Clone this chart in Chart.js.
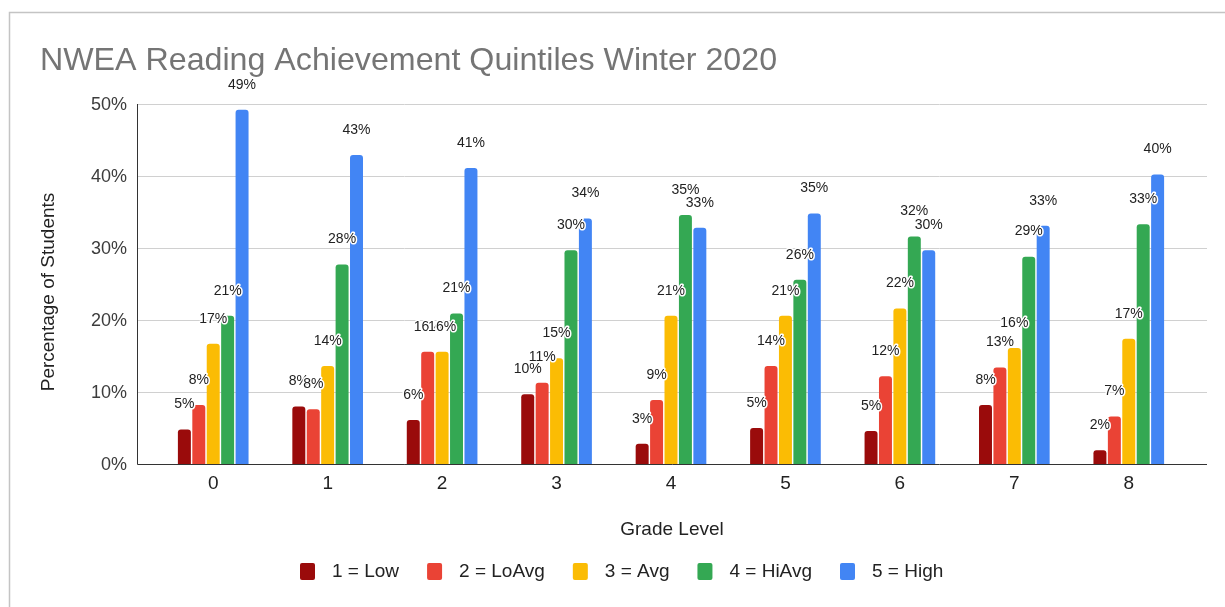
<!DOCTYPE html>
<html>
<head>
<meta charset="utf-8">
<title>NWEA Reading Achievement Quintiles Winter 2020</title>
<script src="https://cdn.jsdelivr.net/npm/chart.js@4/dist/chart.umd.min.js"></script>
<style>
  html, body { margin:0; padding:0; background:#fff; }
  #wrap { width:1225px; height:607px; position:relative; }
</style>
</head>
<body>
<div id="wrap"><canvas id="quintileChart" width="1225" height="607"></canvas></div>
<script>
/* ============================================================
   DATA (percent of students per quintile, by grade)
   ============================================================ */
const grades      = ['0','1','2','3','4','5','6','7','8'];
const seriesNames = ['1 = Low','2 = LoAvg','3 = Avg','4 = HiAvg','5 = High'];
const seriesColors = ['#9a0b0b','#ea4335','#fbbc04','#34a853','#4285f4'];
const low   = [4.8, 8.0, 6.1, 9.7, 2.8, 5.0, 4.6, 8.2, 1.9];
const loAvg = [8.2, 7.6, 15.6, 11.3, 8.9, 13.6, 12.2, 13.4, 6.6];
const avg   = [16.7, 13.6, 15.6, 14.7, 20.6, 20.6, 21.6, 16.1, 17.4];
const hiAvg = [20.6, 27.7, 20.9, 29.7, 34.6, 25.6, 31.6, 28.8, 33.3];
const high  = [49.2, 42.9, 41.1, 34.1, 32.8, 34.8, 29.7, 33.1, 40.2];
const yTicks = [0, 10, 20, 30, 40, 50];

const FONT = '"Liberation Sans", Arial, sans-serif';
const AXIS_LEFT = 137, AXIS_RIGHT = 1207;

/** Frame, title, gridlines, axis lines, tick labels, axis titles, legend. */
const decorPlugin = {
  id: 'decor',
  beforeDraw(chart) {
    const ctx = chart.ctx;
    ctx.save();
    ctx.strokeStyle = '#c4c4c4';
    ctx.lineWidth = 1.5;
    ctx.beginPath();
    ctx.moveTo(9.5, 640); ctx.lineTo(9.5, 12.5); ctx.lineTo(1240, 12.5);
    ctx.stroke();

    ctx.fillStyle = '#757575';
    ctx.font = `32.2px ${FONT}`;
    ctx.textBaseline = 'alphabetic';
    ctx.fillText('NWEA Reading Achievement Quintiles Winter 2020', 40, 70);
    ctx.restore();
  },
  beforeDatasetsDraw(chart) {
    const ctx = chart.ctx, y = chart.scales.y, x = chart.scales.x;
    ctx.save();
    ctx.strokeStyle = '#d0d0d0';
    ctx.lineWidth = 1;
    yTicks.forEach(t => {
      if (t === 0) return;
      const py = Math.round(y.getPixelForValue(t)) + 0.5;
      ctx.beginPath(); ctx.moveTo(AXIS_LEFT, py); ctx.lineTo(AXIS_RIGHT, py); ctx.stroke();
    });

    // y tick labels
    ctx.fillStyle = '#3c3c3c';
    ctx.font = `18px ${FONT}`;
    ctx.textAlign = 'right';
    ctx.textBaseline = 'middle';
    yTicks.forEach(t => ctx.fillText(t + '%', 127, y.getPixelForValue(t) + 1));

    // x tick labels
    ctx.fillStyle = '#222';
    ctx.textAlign = 'center';
    ctx.font = `19px ${FONT}`;
    grades.forEach((g, i) => ctx.fillText(g, x.getPixelForValue(i), 484));

    // axis titles
    ctx.fillText('Grade Level', (AXIS_LEFT + AXIS_RIGHT) / 2, 530);
    ctx.save();
    ctx.translate(49, 292);
    ctx.rotate(-Math.PI / 2);
    ctx.fillText('Percentage of Students', 0, 0);
    ctx.restore();

    // legend
    ctx.textAlign = 'left';
    let lx = 300;
    seriesNames.forEach((name, i) => {
      ctx.fillStyle = seriesColors[i];
      ctx.beginPath();
      ctx.roundRect(lx, 563, 15, 17, 2);
      ctx.fill();
      ctx.fillStyle = '#222';
      ctx.fillText(name, lx + 32, 572);
      lx += 32 + ctx.measureText(name).width + 28;
    });
    ctx.restore();
  },
  afterDatasetsDraw(chart) {
    const ctx = chart.ctx, y = chart.scales.y;
    ctx.save();
    ctx.strokeStyle = '#333';
    ctx.lineWidth = 1;
    const base = Math.round(y.getPixelForValue(0)) + 0.5;
    ctx.beginPath();
    ctx.moveTo(AXIS_LEFT + 0.5, Math.round(y.getPixelForValue(50)));
    ctx.lineTo(AXIS_LEFT + 0.5, base);
    ctx.lineTo(AXIS_RIGHT, base);
    ctx.stroke();

    // value labels above each bar, with a white halo
    ctx.font = `14px ${FONT}`;
    ctx.textAlign = 'center';
    ctx.textBaseline = 'middle';
    ctx.lineJoin = 'round';
    chart.data.datasets.forEach((ds, di) => {
      chart.getDatasetMeta(di).data.forEach((bar, i) => {
        const txt = Math.round(ds.data[i]) + '%';
        ctx.strokeStyle = '#fff';
        ctx.lineWidth = 3;
        ctx.strokeText(txt, bar.x, bar.y - 25);
        ctx.fillStyle = '#222';
        ctx.fillText(txt, bar.x, bar.y - 25);
      });
    });
    ctx.restore();
  },
};

const seriesData = [low, loAvg, avg, hiAvg, high];

new Chart(document.getElementById('quintileChart'), {
  type: 'bar',
  data: {
    labels: grades,
    datasets: seriesNames.map((name, i) => ({
      label: name,
      data: seriesData[i],
      backgroundColor: seriesColors[i],
      borderRadius: 3,
      borderSkipped: 'start',
      categoryPercentage: 0.63,
      barPercentage: 0.9,
    })),
  },
  options: {
    responsive: false,
    animation: false,
    events: [],
    layout: { padding: { left: 156, right: 39, top: 104, bottom: 143 } },
    plugins: { legend: { display: false }, tooltip: { enabled: false }, title: { display: false } },
    scales: {
      x: { display: false, offset: true },
      y: { display: false, min: 0, max: 50, ticks: { stepSize: 10 } },
    },
  },
  plugins: [decorPlugin],
});
</script>
</body>
</html>
